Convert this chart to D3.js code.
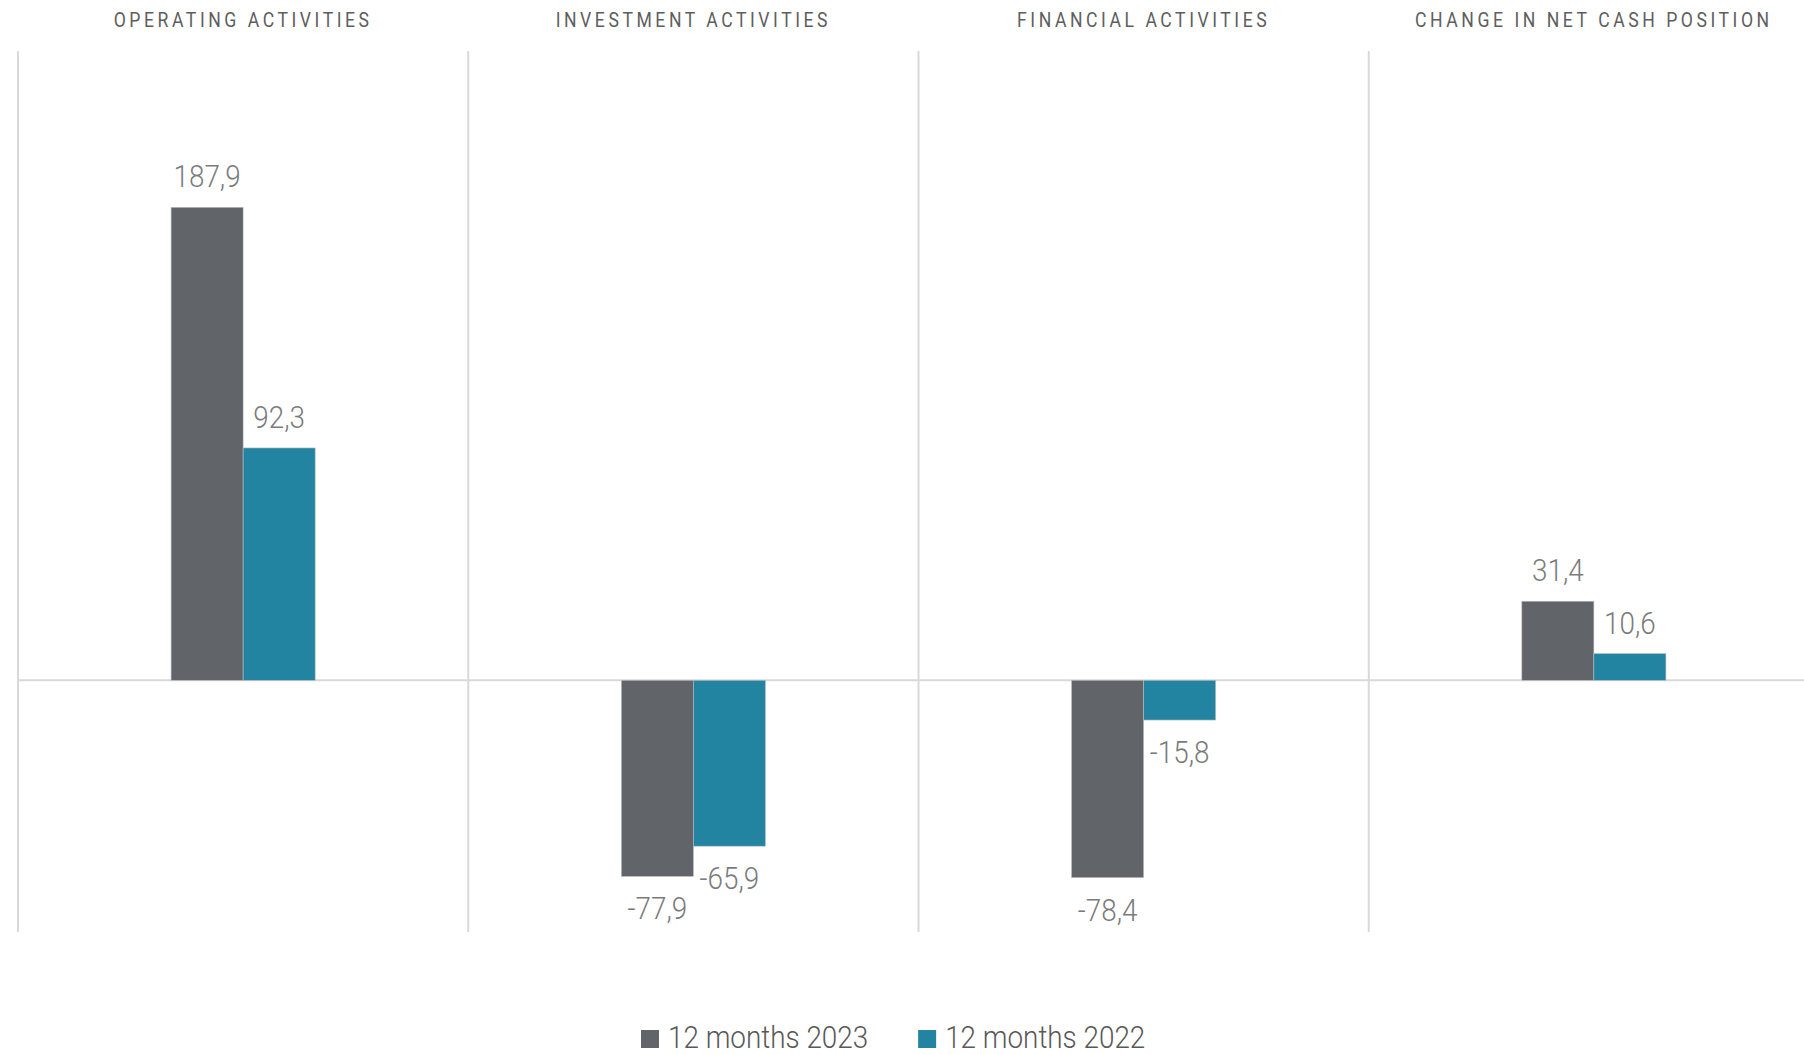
<!DOCTYPE html>
<html>
<head>
<meta charset="utf-8">
<script src="https://cdn.jsdelivr.net/npm/d3@7"></script>
<style>
  body { margin: 0; background: #fff; }
  text { font-family: Roboto, "Open Sans", sans-serif; }
</style>
</head>
<body>
<div id="chart"></div>
<script>
var width = 1804,
    height = 1055;

var categories = ["OPERATING ACTIVITIES", "INVESTMENT ACTIVITIES", "FINANCIAL ACTIVITIES", "CHANGE IN NET CASH POSITION"];
var seriesNames = ["12 months 2023", "12 months 2022"];
var values2023 = [187.9, -77.9, -78.4, 31.4];
var values2022 = [92.3, -65.9, -15.8, 10.6];
var colors = ["#616469", "#2284a1"];

var squeeze = 0.87; // narrow the glyphs to look like a condensed face

var svg = d3.select("#chart").append("svg")
    .attr("width", width)
    .attr("height", height);

var x = d3.scaleBand()
    .domain(categories)
    .range([18, 1819])
    .paddingInner(0)
    .paddingOuter(0);

var y = d3.scaleLinear()
    .domain([-100, 250])
    .range([932, 51]);

var barW = x.bandwidth() * 0.16;
var inner = d3.scaleBand()
    .domain(seriesNames)
    .range([-barW, barW]);

var data = [];
categories.forEach(function (c, i) {
    data.push({cat: c, series: seriesNames[0], value: values2023[i], color: colors[0]});
    data.push({cat: c, series: seriesNames[1], value: values2022[i], color: colors[1]});
});

// panel separators
svg.selectAll("line.sep")
    .data(categories)
    .enter().append("line")
    .attr("class", "sep")
    .attr("x1", function (d) { return x(d); })
    .attr("x2", function (d) { return x(d); })
    .attr("y1", y(250))
    .attr("y2", y(-100))
    .attr("stroke", "#d9d9d9")
    .attr("stroke-width", 2);

// zero line
svg.append("line")
    .attr("x1", x(categories[0]))
    .attr("x2", width)
    .attr("y1", y(0))
    .attr("y2", y(0))
    .attr("stroke", "#d9d9d9")
    .attr("stroke-width", 2);

// bars
svg.selectAll("rect.bar")
    .data(data)
    .enter().append("rect")
    .attr("class", "bar")
    .attr("x", function (d) { return x(d.cat) + x.bandwidth() / 2 + inner(d.series); })
    .attr("width", inner.bandwidth())
    .attr("y", function (d) { return y(Math.max(0, d.value)); })
    .attr("height", function (d) { return Math.abs(y(d.value) - y(0)); })
    .attr("fill", function (d) { return d.color; })
    .attr("stroke", "#b9bcbf")
    .attr("stroke-width", 0.6);

// value labels
svg.selectAll("g.lbl")
    .data(data)
    .enter().append("g")
    .attr("class", "lbl")
    .attr("transform", function (d) {
        var cx = x(d.cat) + x.bandwidth() / 2 + inner(d.series) + inner.bandwidth() / 2;
        var cy = d.value >= 0 ? y(d.value) - 20 : y(d.value) + 43;
        return "translate(" + cx + "," + cy + ") scale(" + squeeze + ",1)";
    })
    .append("text")
    .attr("text-anchor", "middle")
    .attr("font-size", 32)
    .attr("font-weight", 300)
    .attr("fill", "#7b7b7b")
    .text(function (d) { return String(d.value).replace(".", ","); });

// panel titles
svg.selectAll("g.title")
    .data(categories)
    .enter().append("g")
    .attr("class", "title")
    .attr("transform", function (d) {
        return "translate(" + (x(d) + x.bandwidth() / 2) + ",27) scale(0.84,1)";
    })
    .append("text")
    .attr("text-anchor", "middle")
    .attr("font-size", 21)
    .attr("letter-spacing", "4.2px")
    .attr("fill", "#5e5e5e")
    .text(function (d) { return d; });

// legend
var legend = svg.append("g").attr("transform", "translate(641,1048)");
var lx = 0;
seriesNames.forEach(function (s, i) {
    var item = legend.append("g").attr("transform", "translate(" + lx + ",0)");
    item.append("rect")
        .attr("x", 0)
        .attr("y", -18)
        .attr("width", 18)
        .attr("height", 18)
        .attr("fill", colors[i]);
    var t = item.append("g")
        .attr("transform", "translate(27,0) scale(" + squeeze + ",1)")
        .append("text")
        .attr("font-size", 32)
        .attr("font-weight", 300)
        .attr("fill", "#595959")
        .text(s);
    lx += 27 + t.node().getComputedTextLength() * squeeze + 50;
});
</script>
</body>
</html>
